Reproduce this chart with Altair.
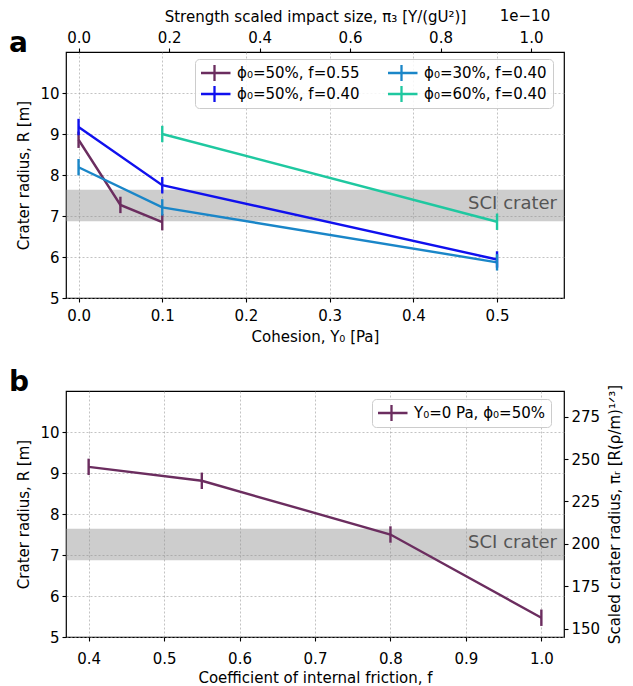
import altair as alt
import pandas as pd

# ---------------- Panel a data ----------------
a_series = ["ϕ₀=50%, f=0.55", "ϕ₀=50%, f=0.40", "ϕ₀=30%, f=0.40", "ϕ₀=60%, f=0.40"]
a_colors = ["#6b2d5f", "#1010ee", "#1a86c8", "#1fc8a0"]

s1_y0 = [0.0, 0.05, 0.1]
s1_r = [8.86, 7.27, 6.85]
s1_e = [0.2, 0.2, 0.2]

s2_y0 = [0.0, 0.1, 0.5]
s2_r = [9.17, 7.75, 5.94]
s2_e = [0.2, 0.2, 0.2]

s3_y0 = [0.0, 0.1, 0.5]
s3_r = [8.19, 7.21, 5.87]
s3_e = [0.2, 0.2, 0.2]

s4_y0 = [0.1, 0.5]
s4_r = [9.0, 6.86]
s4_e = [0.2, 0.2]

# ---------------- Panel b data ----------------
b_series = ["Y₀=0 Pa, ϕ₀=50%"]
b_f = [0.4, 0.55, 0.8, 1.0]
b_r = [9.15, 8.81, 7.50, 5.47]
b_e = [0.2, 0.2, 0.2, 0.2]

sci_low, sci_high = 6.87, 7.64
pi3_ticks = [0.0, 0.2, 0.4, 0.6, 0.8, 1.0]
piR_ticks = [150, 175, 200, 225, 250, 275]

rows = []
for name, xs, rs, es in zip(a_series, [s1_y0, s2_y0, s3_y0, s4_y0],
                            [s1_r, s2_r, s3_r, s4_r], [s1_e, s2_e, s3_e, s4_e]):
    for x, r, e in zip(xs, rs, es):
        rows.append({"series": name, "Y0": x, "R": r, "lo": r - e, "hi": r + e})
dfa = pd.DataFrame(rows)

dfb = pd.DataFrame({"series": b_series * len(b_f), "f": b_f, "R": b_r,
                    "lo": [r - e for r, e in zip(b_r, b_e)],
                    "hi": [r + e for r, e in zip(b_r, b_e)]})

W, H = 498, 246
FONT = "DejaVu Sans"
SYM = "M-1.5,0H2.5M0.5,-1V1"

band_df = pd.DataFrame({"lo": [sci_low], "hi": [sci_high], "t": ["SCI crater"], "ty": [7.17]})

yscale = alt.Scale(domain=[5, 11], nice=False, zero=False)
yaxis = alt.Axis(values=[5, 6, 7, 8, 9, 10], title="Crater radius, R [m]", titlePadding=8)


def legend(x, y, cols):
    return alt.Legend(orient="none", legendX=x, legendY=y, columns=cols, title=None,
                      direction="vertical",
                      symbolType=SYM, symbolSize=256, symbolStrokeWidth=2.3,
                      labelFontSize=15, labelFont=FONT, labelColor="black",
                      strokeColor="#cccccc", fillColor="rgba(255,255,255,0.85)",
                      padding=6, cornerRadius=4, rowPadding=5, columnPadding=28,
                      clipHeight=16,
                      labelOffset=17, labelLimit=300)


def panel(df, xfield, xscale, xaxis, series, colors, leg, label):
    cscale = alt.Scale(domain=series, range=colors)
    band = alt.Chart(band_df).mark_rect(color="#909090", opacity=0.45).encode(
        x=alt.value(0), x2=alt.value(W), y=alt.Y("lo:Q", scale=yscale, axis=yaxis), y2="hi:Q")
    sci = alt.Chart(band_df).mark_text(align="right", baseline="alphabetic", fontSize=18,
                                       font=FONT, color="#555555").encode(
        x=alt.value(W - 7), y=alt.Y("ty:Q", scale=yscale), text="t:N")
    line = alt.Chart(df).mark_line(strokeWidth=2.4).encode(
        x=alt.X(f"{xfield}:Q", scale=xscale, axis=xaxis),
        y=alt.Y("R:Q", scale=yscale),
        color=alt.Color("series:N", scale=cscale, legend=leg, sort=series),
        detail="series:N")
    err = alt.Chart(df).mark_rule(strokeWidth=2.4).encode(
        x=alt.X(f"{xfield}:Q", scale=xscale),
        y=alt.Y("lo:Q", scale=yscale), y2="hi:Q",
        color=alt.Color("series:N", scale=cscale, legend=leg, sort=series))
    lab = alt.Chart(pd.DataFrame({"t": [label]})).mark_text(
        align="left", baseline="alphabetic", fontSize=28, fontWeight="bold", font=FONT,
        color="black").encode(x=alt.value(-57), y=alt.value(0), text="t:N")
    return alt.layer(band, sci, line, err, lab)


# ---------- panel a ----------
xa_scale = alt.Scale(domain=[-0.015, 0.58], nice=False, zero=False)
xa_axis = alt.Axis(values=[0.0, 0.1, 0.2, 0.3, 0.4, 0.5], format=".1f",
                   labelPadding=6,
                   title="Cohesion, Y₀ [Pa]", titlePadding=6)
inner_a = panel(dfa, "Y0", xa_scale, xa_axis, a_series, a_colors,
                legend(129, 7, 2), "a")

top_df = pd.DataFrame({"pi3": pi3_ticks})
top_axis = alt.Chart(top_df).mark_point(opacity=0).encode(
    x=alt.X("pi3:Q", scale=alt.Scale(domain=[-0.0278, 1.0729], nice=False, zero=False),
            axis=alt.Axis(orient="top", values=pi3_ticks, format=".1f", grid=False,
                          labelPadding=3,
                          title="Strength scaled impact size, π₃ [Y/(gU²)]", titlePadding=6)))
exp_txt = alt.Chart(pd.DataFrame({"t": ["1e−10"]})).mark_text(
    align="center", baseline="alphabetic", fontSize=15, font=FONT, color="black").encode(
    x=alt.value(459), y=alt.value(-31), text="t:N")

panel_a = alt.layer(inner_a, top_axis, exp_txt).resolve_scale(x="independent").properties(
    width=W, height=H)

# ---------- panel b ----------
xb_scale = alt.Scale(domain=[0.37, 1.03], nice=False, zero=False)
xb_axis = alt.Axis(values=[0.4, 0.5, 0.6, 0.7, 0.8, 0.9, 1.0], format=".1f",
                   labelPadding=10,
                   title="Coefficient of internal friction, f", titlePadding=4)
inner_b = panel(dfb, "f", xb_scale, xb_axis, b_series, ["#6b2d5f"],
                legend(306, 8, 1), "b")

right_df = pd.DataFrame({"piR": piR_ticks})
right_axis = alt.Chart(right_df).mark_point(opacity=0).encode(
    y=alt.Y("piR:Q", scale=alt.Scale(domain=[145.0, 290.2], nice=False, zero=False),
            axis=alt.Axis(orient="right", values=piR_ticks, grid=False, titleAngle=270,
                          titleBaseline="top",
                          title="Scaled crater radius, πᵣ [R(ρ/m)¹ᐟ³]", titlePadding=8)))

panel_b = alt.layer(inner_b, right_axis).resolve_scale(y="independent").properties(
    width=W, height=H)

chart = alt.vconcat(panel_a, panel_b, spacing=23).resolve_scale(
    color="independent"
).properties(
    padding={"left": 0, "top": 0, "right": 0, "bottom": 0}
).configure(font=FONT).configure_view(
    stroke="black", strokeWidth=1.2
).configure_axis(
    domain=False, tickColor="black", tickSize=4, tickWidth=1.1,
    labelFontSize=15, labelColor="black", labelFont=FONT, labelPadding=3,
    titleFontSize=15, titleFontWeight="normal", titleColor="black", titleFont=FONT,
    gridColor="#a0a0a0", gridDash=[2, 2], gridWidth=0.8, gridOpacity=0.8
)

chart.save("out.html", embed_options={"renderer": "svg", "actions": False})
